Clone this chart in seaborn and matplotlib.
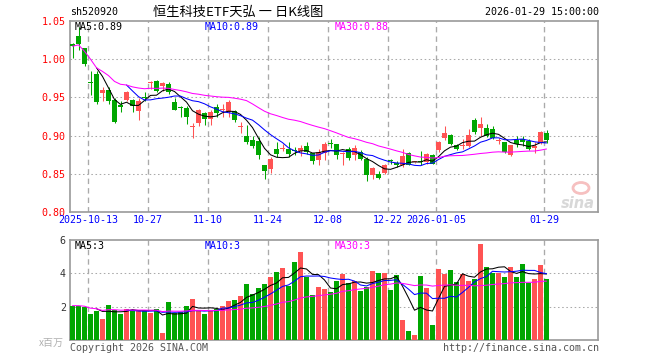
import numpy as np
import pandas as pd
import matplotlib
matplotlib.use("Agg")
import matplotlib.pyplot as plt
import seaborn as sns
from matplotlib.patches import Ellipse

# ---------------- data ----------------
open_ = [1.0200, 1.0300, 1.0144, 0.9695, 0.9806, 0.9554, 0.9602, 0.9471, 0.9406, 0.9471,
         0.9471, 0.9328, 0.9503, 0.9694, 0.9719, 0.9654, 0.9675, 0.9445, 0.9366, 0.9363,
         0.9110, 0.9163, 0.9294, 0.9220, 0.9372, 0.9337, 0.9307, 0.9328, 0.9110, 0.8999,
         0.8946, 0.8924, 0.8612, 0.8560, 0.8820, 0.8820, 0.8820, 0.8804, 0.8794, 0.8859,
         0.8777, 0.8677, 0.8777, 0.8898, 0.8886, 0.8764, 0.8820, 0.8742, 0.8786, 0.8690,
         0.8482, 0.8503, 0.8512, 0.8675, 0.8642, 0.8612, 0.8777, 0.8650, 0.8660, 0.8655,
         0.8742, 0.8807, 0.8968, 0.9003, 0.8873, 0.8863, 0.8863, 0.9198, 0.9102, 0.9102,
         0.9089, 0.8925, 0.8916, 0.8751, 0.8946, 0.8959, 0.8929, 0.8838, 0.8903, 0.9033]
high = [1.0210, 1.0420, 1.0150, 0.9850, 0.9850, 0.9640, 0.9640, 0.9493, 0.9458, 0.9589,
        0.9475, 0.9493, 0.9571, 0.9719, 0.9725, 0.9700, 0.9700, 0.9493, 0.9393, 0.9393,
        0.9163, 0.9350, 0.9307, 0.9337, 0.9415, 0.9415, 0.9467, 0.9337, 0.9180, 0.9133,
        0.8999, 0.8981, 0.8615, 0.8720, 0.8916, 0.8886, 0.8916, 0.8846, 0.8872, 0.8916,
        0.8777, 0.8829, 0.8916, 0.8950, 0.8890, 0.8786, 0.8850, 0.8872, 0.8816, 0.8720,
        0.8590, 0.8534, 0.8634, 0.8699, 0.8664, 0.8829, 0.8790, 0.8660, 0.8794, 0.8777,
        0.8764, 0.8929, 0.9120, 0.9025, 0.8890, 0.8950, 0.9089, 0.9233, 0.9250, 0.9146,
        0.9120, 0.8968, 0.8920, 0.8873, 0.8989, 0.8989, 0.8959, 0.8916, 0.9059, 0.9076]
low = [1.0010, 1.0120, 0.9914, 0.9536, 0.9415, 0.9458, 0.9415, 0.9163, 0.9306, 0.9458,
       0.9315, 0.9207, 0.9458, 0.9610, 0.9576, 0.9589, 0.9545, 0.9337, 0.9241, 0.9155,
       0.8972, 0.9120, 0.9134, 0.9142, 0.9241, 0.9241, 0.9241, 0.9176, 0.9033, 0.8894,
       0.8842, 0.8699, 0.8438, 0.8504, 0.8720, 0.8799, 0.8720, 0.8743, 0.8729, 0.8755,
       0.8634, 0.8612, 0.8677, 0.8842, 0.8699, 0.8612, 0.8677, 0.8677, 0.8677, 0.8404,
       0.8430, 0.8430, 0.8495, 0.8634, 0.8590, 0.8590, 0.8612, 0.8645, 0.8612, 0.8634,
       0.8625, 0.8786, 0.8938, 0.8873, 0.8810, 0.8820, 0.8851, 0.9025, 0.8990, 0.8981,
       0.8959, 0.8894, 0.8777, 0.8734, 0.8851, 0.8864, 0.8807, 0.8773, 0.8894, 0.8903]
close = [1.0170, 1.0205, 0.9936, 0.9690, 0.9437, 0.9602, 0.9458, 0.9176, 0.9372, 0.9576,
         0.9393, 0.9458, 0.9498, 0.9706, 0.9589, 0.9684, 0.9567, 0.9340, 0.9360, 0.9241,
         0.9120, 0.9340, 0.9215, 0.9307, 0.9294, 0.9342, 0.9437, 0.9198, 0.9115, 0.8916,
         0.8859, 0.8742, 0.8538, 0.8690, 0.8755, 0.8833, 0.8764, 0.8799, 0.8842, 0.8786,
         0.8668, 0.8786, 0.8894, 0.8894, 0.8742, 0.8770, 0.8707, 0.8837, 0.8699, 0.8482,
         0.8577, 0.8447, 0.8621, 0.8664, 0.8612, 0.8729, 0.8621, 0.8655, 0.8652, 0.8764,
         0.8634, 0.8916, 0.9037, 0.8894, 0.8829, 0.8867, 0.9003, 0.9046, 0.9146, 0.8994,
         0.8968, 0.8929, 0.8786, 0.8872, 0.8886, 0.8916, 0.8829, 0.8864, 0.9046, 0.8938]
volume = [2.06, 2.06, 1.96, 1.56, 1.74, 1.26, 2.10, 1.80, 1.56, 1.86,
          1.80, 1.80, 1.80, 1.60, 1.86, 0.44, 2.28, 1.60, 1.70, 2.04,
          2.46, 1.80, 1.56, 1.80, 1.86, 2.04, 2.34, 2.40, 2.64, 3.36,
          2.74, 3.12, 3.36, 3.78, 4.08, 4.32, 3.24, 4.68, 5.28, 3.78,
          2.70, 3.18, 3.06, 2.88, 3.54, 3.96, 3.40, 3.56, 2.94, 3.20,
          4.14, 4.02, 4.02, 3.00, 3.90, 1.20, 0.54, 0.30, 3.84, 3.12,
          0.90, 4.26, 3.96, 4.20, 3.48, 3.96, 3.54, 3.66, 5.76, 4.38,
          4.02, 4.02, 3.78, 4.38, 3.78, 4.56, 3.42, 3.66, 4.50, 3.66]
date_pos = [3, 13, 23, 33, 43, 53, 61, 79]
date_labels = ["2025-10-13", "10-27", "11-10", "11-24", "12-08", "12-22", "2026-01-05", "01-29"]
price_ticks = [0.80, 0.85, 0.90, 0.95, 1.00, 1.05]
vol_ticks = [2, 4, 6]
title = "恒生科技ETF天弘 一 日K线图"
code = "sh520920"
stamp = "2026-01-29 15:00:00"
price_ma_labels = ["MA5:0.89", "MA10:0.89", "MA30:0.88"]
vol_ma_labels = ["MA5:3", "MA10:3", "MA30:3"]

# ---------------- styling ----------------
sns.set_style("white")
plt.rcParams["font.family"] = ["DejaVu Sans Mono", "Noto Sans CJK SC"]

RED = "#ff5353"
GREEN = "#00a600"
GRID = "#aaaaaa"
BORDER = "#9a9a9a"
LW = 0.75  # ~1 px

df = pd.DataFrame({"i": np.arange(len(close)), "o": open_, "h": high, "l": low,
                   "c": close, "v": volume})
df["dir"] = np.where(df["c"] >= df["o"], "up", "down")
df["ma5"] = df["c"].rolling(5).mean()
df["ma10"] = df["c"].rolling(10).mean()
df["ma30"] = df["c"].rolling(30, min_periods=1).mean()
df["vma5"] = df["v"].rolling(5).mean()
df["vma10"] = df["v"].rolling(10).mean()
df["vma30"] = df["v"].rolling(30, min_periods=1).mean()

W, H = 660, 360
fig = plt.figure(figsize=(W / 100, H / 100), dpi=100)
L_PX, R_PX = 70, 598
ax1 = fig.add_axes([L_PX / W, (H - 212) / H, (R_PX - L_PX) / W, (212 - 21) / H])
ax2 = fig.add_axes([L_PX / W, (H - 340) / H, (R_PX - L_PX) / W, 100 / H])

xmin = (L_PX - 72.5) / 6
xmax = (R_PX - 72.5) / 6
BW = 5 / 6

# candles
cols = np.where(df["dir"] == "up", RED, GREEN)
ax1.vlines(df["i"], df["l"], df["h"], colors=cols, linewidth=LW, zorder=2)
body_h = np.maximum((df["c"] - df["o"]).abs(), 0.0013)
ax1.bar(df["i"], body_h, bottom=np.minimum(df["o"], df["c"]), width=BW,
        color=cols, linewidth=0, zorder=3)

for col, c in [("ma5", "black"), ("ma10", "#0000ff"), ("ma30", "#ff00ff")]:
    sns.lineplot(data=df, x="i", y=col, ax=ax1, color=c, linewidth=LW, zorder=4)

# volume
sns.barplot(data=df, x="i", y="v", hue="dir", palette={"up": RED, "down": GREEN},
            native_scale=True, width=BW, dodge=False, errorbar=None, legend=False,
            saturation=1, linewidth=0, ax=ax2, zorder=3)
for col, c in [("vma5", "black"), ("vma10", "#0000ff"), ("vma30", "#ff00ff")]:
    sns.lineplot(data=df, x="i", y=col, ax=ax2, color=c, linewidth=LW, zorder=4)

for ax, ylim, hgrid in [(ax1, (0.80, 1.05), [0.85, 0.90, 0.95, 1.00]), (ax2, (0, 6), [2, 4])]:
    ax.set_xlim(xmin, xmax)
    ax.set_ylim(*ylim)
    ax.set_xlabel("")
    ax.set_ylabel("")
    ax.set_xticks([])
    for y in hgrid:
        ax.axhline(y, color=GRID, linewidth=LW, linestyle=(0, (1.5, 2.5)), zorder=1)
    for p in date_pos:
        ax.axvline(p - 0.4167, color=GRID, linewidth=LW * 1.3, linestyle=(0, (4, 3)), zorder=1)
    for s in ax.spines.values():
        s.set_color(BORDER)
        s.set_linewidth(1.2)
    ax.tick_params(axis="y", length=0, pad=3, labelsize=7.2)

ax1.set_yticks(price_ticks)
ax1.set_yticklabels([f"{t:.2f}" for t in price_ticks], color="#ff0000")
ax2.set_yticks(vol_ticks)
ax2.set_yticklabels([str(t) for t in vol_ticks], color="#333333")

# date labels
tr = ax1.get_xaxis_transform()
for p, lab in zip(date_pos, date_labels):
    ax1.text(p - 0.4167, -0.042, lab, transform=tr, ha="center", va="center",
             fontsize=7.2, color="#0000ff")

# MA legends
def fx(px):
    return px / W

def fy(py):
    return 1 - py / H

for lab, px, c in zip(price_ma_labels, [75, 205, 335], ["black", "#0000ff", "#ff00ff"]):
    fig.text(fx(px), fy(26.5), lab, ha="left", va="center", fontsize=7.2, color=c)
for lab, px, c in zip(vol_ma_labels, [75, 205, 335], ["black", "#0000ff", "#ff00ff"]):
    fig.text(fx(px), fy(246), lab, ha="left", va="center", fontsize=7.2, color=c)

# header
fig.text(fx(70), fy(12), code, ha="left", va="center", fontsize=7.2, color="black")
fig.text(fx(238), fy(12), title, ha="center", va="center", fontsize=9.5, color="black",
         family=["Noto Sans CJK SC", "DejaVu Sans"])
fig.text(fx(599), fy(12), stamp, ha="right", va="center", fontsize=7.2, color="black")

# footer
fig.text(fx(70), fy(348), "Copyright 2026 SINA.COM", ha="left", va="center",
         fontsize=7.2, color="#555555")
fig.text(fx(599), fy(348), "http://finance.sina.com.cn", ha="right", va="center",
         fontsize=7.2, color="#555555")
fig.text(fx(39), fy(343), "x百万", ha="left", va="center", fontsize=7.2, color="#b0b0b0",
         family=["Noto Sans CJK SC", "DejaVu Sans"])

# sina watermark
fig.text(fx(578), fy(203), "sina", ha="center", va="center", fontsize=10.5,
         color="#d8d8d8", style="italic", weight="bold", family="DejaVu Sans")
fig.patches.append(Ellipse((fx(581), fy(188)), 16 / W, 11 / H, transform=fig.transFigure,
                           facecolor="none", edgecolor="#f6c0c0", linewidth=2))

fig.savefig("out.png", dpi=100)
